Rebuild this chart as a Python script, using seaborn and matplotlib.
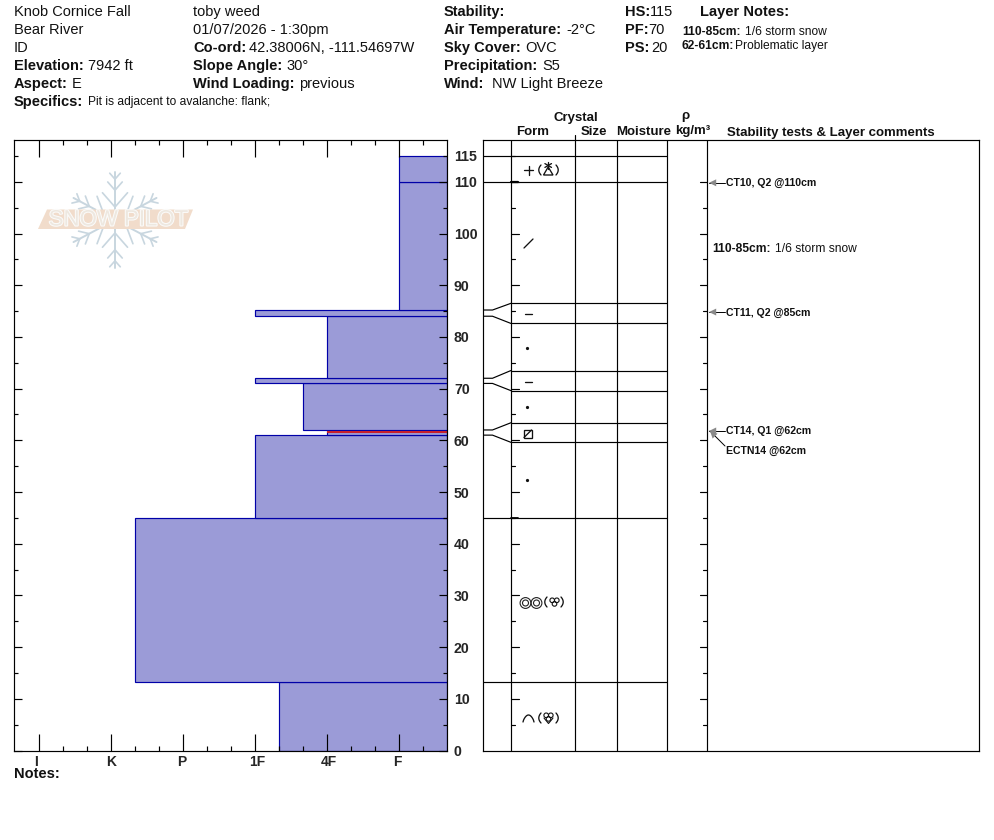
import numpy as np
import pandas as pd
import seaborn as sns
import matplotlib
matplotlib.use("Agg")
import matplotlib.pyplot as plt
from matplotlib.patches import Polygon, Circle, Rectangle
from matplotlib.ticker import FixedLocator
import matplotlib.patheffects as pe

# ---------- data ----------
layer_edges = [0, 13.2, 45, 61, 62, 71, 72, 84, 85.2, 110, 115]
layer_hardness = [7, 13, 8, 5, 6, 8, 5, 8, 2, 2]   # distance from the right edge, in hardness steps
hardness_labels = ["I", "K", "P", "1F", "4F", "F"]
hardness_positions = [17, 14, 11, 8, 5, 2]
display_edges = [0, 13.2, 45, 59.6, 63.4, 69.6, 73.5, 82.6, 86.5, 110, 115]
weak_layer_depth = 61.6
test_depths = [110, 85, 62]

fig_w, fig_h = 994, 840
BLUE_FILL = "#9b9bd7"
BLUE_EDGE = "#0000a8"
LW = 0.85
FONT = "Liberation Sans"

sns.set_theme(style="white", rc={"font.family": FONT, "axes.linewidth": LW,
                                  "axes.edgecolor": "black"})
fig = plt.figure(figsize=(fig_w / 100, fig_h / 100), dpi=100, facecolor="white")


def px_axes(x0, y0, x1, y1, **kw):
    return fig.add_axes([x0 / fig_w, 1 - y1 / fig_h, (x1 - x0) / fig_w, (y1 - y0) / fig_h], **kw)


PX_PER_CM = 5.17
Y_TOP = (751 - 140.5) / PX_PER_CM

# ---------- hardness profile ----------
ax = px_axes(14, 140, 447, 750.5)
df = pd.DataFrame({"mid": (np.array(layer_edges[:-1]) + np.array(layer_edges[1:])) / 2,
                   "hardness": layer_hardness})
sns.histplot(data=df, y="mid", weights="hardness", bins=layer_edges, ax=ax, alpha=1,
             color=BLUE_FILL, edgecolor=BLUE_EDGE, linewidth=LW, zorder=2)
ax.set_xlim(433 / 24, 0)
ax.set_ylim(0, Y_TOP)
ax.set_xlabel("")
ax.set_ylabel("")
ax.hlines(weak_layer_depth, 0, 5, color="#c8202c", lw=1.5, zorder=3)

ax.set_xticks(hardness_positions, hardness_labels)
ax.xaxis.set_minor_locator(FixedLocator([v for v in range(1, 18) if v not in hardness_positions]))
ax.tick_params(axis="x", which="major", direction="in", top=True, bottom=True, length=12.2,
               width=LW, pad=3.2, labelsize=10, color="black")
ax.tick_params(axis="x", which="minor", direction="in", top=True, bottom=True, length=3.6,
               width=LW, color="black")
for t, dx in zip(ax.get_xticklabels(), [-3, 0, -1, 2, 2, -2]):
    t.set_fontweight("bold")
    t.set_transform(t.get_transform() + matplotlib.transforms.ScaledTranslation(dx / 100, 0, fig.dpi_scale_trans))

majors = list(range(0, 111, 10))
minors = list(range(5, 116, 10))
ax.set_yticks(majors, [str(v) for v in majors])
ax.set_yticks(minors, [""] * (len(minors) - 1) + ["115"], minor=True)
for which, L in (("major", 5.8), ("minor", 2.9)):
    ax.tick_params(axis="y", which=which, direction="in", left=True, right=True, length=L,
                   width=LW, pad=5, labelsize=10.2, labelleft=False, labelright=True, color="black")
for t in ax.get_yticklabels() + ax.get_yticklabels(minor=True):
    t.set_fontweight("bold")
for sp in ax.spines.values():
    sp.set_zorder(5)
ax.set_axisbelow(False)

# ---------- layer table ----------
rx = px_axes(483, 140, 979, 750.5)
rx.set_xlim(483, 979)
rx.set_ylim(0, Y_TOP)
rx.set_xticks([])
rx.tick_params(axis="y", which="both", left=False, labelleft=False)
columns = [511, 575, 617, 667, 707]
for c in columns:
    rx.axvline(c, color="black", lw=LW)
rx.plot([575, 575], [Y_TOP, Y_TOP + 0.9], color="black", lw=LW, clip_on=False)
for real, disp in zip(layer_edges[1:], display_edges[1:]):
    if real == disp:
        rx.plot([483, 667], [real, real], color="black", lw=LW)
    else:
        rx.plot([483, 492.5, 511], [real, real, disp], color="black", lw=LW)
        rx.plot([511, 667], [disp, disp], color="black", lw=LW)
for v in range(5, 116, 5):
    L = 7.5 if v % 10 == 0 else 4
    rx.plot([511, 511 + L], [v, v], color="black", lw=LW)
    if v != 115:
        rx.plot([707 - L, 707], [v, v], color="black", lw=LW)
rx.plot([511, 518], [110, 110], color="black", lw=1.6)
rx.plot([511, 518], [45, 45], color="black", lw=1.3)
for sp in rx.spines.values():
    sp.set_linewidth(LW)

# ---------- overlay in pixels: text, logo, symbols ----------
ov = fig.add_axes([0, 0, 1, 1], zorder=10)
ov.set_xlim(0, fig_w)
ov.set_ylim(fig_h, 0)
ov.axis("off")


def T(x, y, s, size=14.6, bold=False, ha="left", color="#111111"):
    ov.text(x, y, s, fontsize=size * 0.72, fontweight="bold" if bold else "normal", ha=ha,
            va="center", color=color, family=FONT)


rows = [12, 30, 48, 66, 84]
T(14, rows[0], "Knob Cornice Fall")
T(14, rows[1], "Bear River")
T(14, rows[2], "ID")
T(14, rows[3], "Elevation:", bold=True); T(88, rows[3], "7942 ft")
T(14, rows[4], "Aspect:", bold=True); T(72, rows[4], "E")
T(14, 102, "Specifics:", bold=True); T(88, 102.5, "Pit is adjacent to avalanche: flank;", size=12)

T(193, rows[0], "toby weed")
T(193, rows[1], "01/07/2026 - 1:30pm")
T(193, rows[2], "Co-ord:", bold=True); T(249, rows[2], "42.38006N, -111.54697W")
T(193, rows[3], "Slope Angle:", bold=True); T(286, rows[3], "30°")
T(193, rows[4], "Wind Loading:", bold=True); T(299, rows[4], "previous")

T(444, rows[0], "Stability:", bold=True)
T(444, rows[1], "Air Temperature:", bold=True); T(566, rows[1], "-2°C")
T(444, rows[2], "Sky Cover:", bold=True); T(525, rows[2], "OVC")
T(444, rows[3], "Precipitation:", bold=True); T(542, rows[3], "S5")
T(444, rows[4], "Wind:", bold=True); T(492, rows[4], "NW Light Breeze")

T(625, rows[0], "HS:", bold=True); T(650, rows[0], "115")
T(625, rows[1], "PF:", bold=True); T(648, rows[1], "70")
T(625, rows[2], "PS:", bold=True); T(651, rows[2], "20")
T(700, rows[0], "Layer Notes:", bold=True)
T(682, 32, "110-85cm:", size=12, bold=True); T(745, 32, "1/6 storm snow", size=12)
T(682, 46, "62-61cm:", size=12, bold=True); T(735, 46, "Problematic layer", size=12)

T(576, 118, "Crystal", size=13.2, bold=True, ha="center")
T(516, 132, "Form", size=13.2, bold=True)
T(581, 132, "Size", size=13.2, bold=True)
T(616, 132, "Moisture", size=13.2, bold=True)
T(685, 116, "ρ", size=13.2, bold=True, ha="center")
T(675, 131, "kg/m³", size=13.2, bold=True)
T(727, 133, "Stability tests & Layer comments", size=13.2, bold=True)
T(14, 774.5, "Notes:", bold=True)

ys = {d: 751 - d * PX_PER_CM for d in test_depths}
T(726, ys[110] + 1, "CT10, Q2 @110cm", size=10.5, bold=True)
T(712, 249, "110-85cm:", size=12, bold=True); T(775, 249, "1/6 storm snow", size=12)
T(726, ys[85] + 1, "CT11, Q2 @85cm", size=10.5, bold=True)
T(726, ys[62] + 0.5, "CT14, Q1 @62cm", size=10.5, bold=True)
T(726, 451, "ECTN14 @62cm", size=10.5, bold=True)


def arrow(x0, y0, x1, y1):
    ov.plot([x0, x1], [y0, y1], color="black", lw=0.7)
    a = np.arctan2(y0 - y1, x0 - x1)
    pts = [(x1, y1)]
    for s in (0.45, -0.45):
        pts.append((x1 + 8 * np.cos(a + s), y1 + 8 * np.sin(a + s)))
    ov.add_patch(Polygon(pts, closed=True, fc="#8a8a8a", ec="none", zorder=4))


arrow(725, ys[110] + 0.5, 709, ys[110] + 0.5)
arrow(725, ys[85] + 0.5, 709, ys[85] + 0.5)
arrow(725, ys[62] + 0.5, 709, ys[62] + 0.5)
arrow(725, 446, 710, 431)

# logo
FLAKE = "#c8d6df"
cx, cy = 115, 220
for ang, length in [(90, 48), (-90, 48), (28, 47), (152, 47), (-28, 47), (-152, 47)]:
    a = np.radians(ang)
    d = np.array([np.cos(a), -np.sin(a)])
    ov.plot([cx, cx + d[0] * length], [cy, cy + d[1] * length], color=FLAKE, lw=1.4, zorder=1)
    for frac, blen in [(0.27, 19), (0.62, 11), (0.85, 8)]:
        base = np.array([cx, cy]) + d * length * frac
        for s in (0.72, -0.72):
            b = a + s
            tip = base + np.array([np.cos(b), -np.sin(b)]) * blen
            ov.plot([base[0], tip[0]], [base[1], tip[1]], color=FLAKE, lw=1.2, zorder=1)
ov.add_patch(Polygon([(38, 229), (47, 209.5), (193, 209.5), (185, 229)], closed=True,
                     fc="#f1dccb", ec="none", zorder=2))
ov.text(118.5, 220, "SNOW PILOT", fontsize=16, color="#eee8e0", ha="center", va="center",
        family=FONT, zorder=3, path_effects=[pe.withStroke(linewidth=1.5, foreground="#fbfbfa")])

# form symbols
K = dict(color="#111111", lw=0.95, zorder=4)


def paren(x, y, left=True, h=5):
    t = np.linspace(-1, 1, 15)
    bow = 2.2 * (1 - t ** 2)
    xs = x + (-bow if left else bow)
    ov.plot(xs, y + t * h, **K)


# 115-110
ov.plot([524, 533], [170, 170], **K); ov.plot([528.5, 528.5], [165.5, 174.5], **K)
paren(541, 170); paren(556, 170, left=False)
ov.add_patch(Polygon([(543.5, 175), (553, 175), (548.2, 167)], closed=True, fc="none", ec="#111111", lw=0.95, zorder=4))
for a in (0, 60, 120):
    r = np.radians(a + 30)
    ov.plot([548.2 - 3.8 * np.cos(r), 548.2 + 3.8 * np.cos(r)], [165.5 - 3.8 * np.sin(r), 165.5 + 3.8 * np.sin(r)], **K)
# new snow stroke
ov.plot([524, 533], [248, 239], **K)
# thin dashes
ov.plot([525, 532], [314, 314], **K)
ov.plot([525, 532], [381.5, 381.5], **K)
# dots
for y in (348.5, 407.5, 480.5):
    ov.add_patch(Circle((527.5, y), 1.6, fc="#111111", ec="none", zorder=4))
# faceted box
ov.add_patch(Rectangle((524, 430), 7.5, 7.5, fc="none", ec="#111111", lw=0.95, zorder=4))
ov.plot([524, 531.5], [437.5, 430], **K)


def drop_cluster(x, y):
    for ddx, ddy in [(-2.3, -1.7), (2.3, -1.7), (0, 1.9)]:
        ov.add_patch(Circle((x + ddx, y + ddy), 2.3, fc="none", ec="#111111", lw=0.8, zorder=4))


# rounded grains
for x in (525.5, 536.5):
    ov.add_patch(Circle((x, 603), 5.4, fc="none", ec="#222222", lw=0.8, zorder=4))
    ov.add_patch(Circle((x, 603), 3.0, fc="none", ec="#222222", lw=0.8, zorder=4))
paren(547, 602); paren(561, 602, left=False)
drop_cluster(554.5, 602)
# depth hoar chevron
t = np.linspace(0, 1, 20)
ov.plot(523 + 11 * t, 722 - 7 * np.sin(np.pi * t) ** 0.7, **K)
paren(541, 718); paren(556, 718, left=False)
drop_cluster(548.5, 717)
ov.plot([544, 548.5, 553], [718, 723.5, 718], color="#111111", lw=0.8, zorder=4)

fig.savefig("out.png", dpi=100)
